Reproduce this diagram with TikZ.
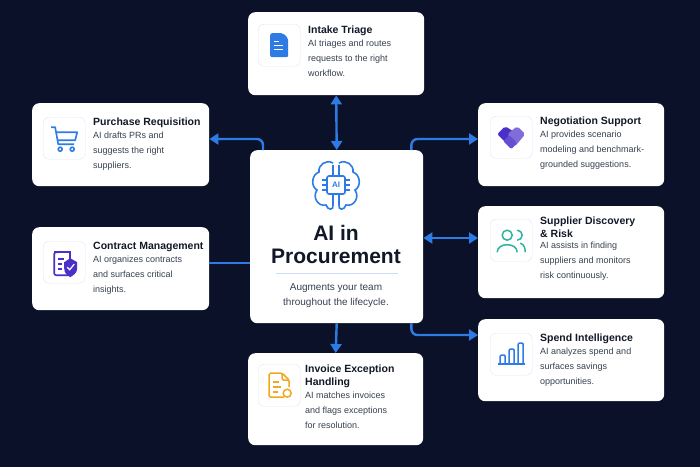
\documentclass[tikz,border=0pt]{standalone}
\usepackage{fontspec}
\setmainfont{Liberation Sans}
\usetikzlibrary{positioning, arrows.meta}
\definecolor{bgnavy}{HTML}{0A1128}
\definecolor{linkblue}{HTML}{2F7BE6}
\definecolor{titleink}{HTML}{111827}
\definecolor{bodyink}{HTML}{374151}
\definecolor{iconedge}{HTML}{E3E6F0}
\definecolor{purpleicon}{HTML}{4B2FC9}
\definecolor{tealicon}{HTML}{2BB5A0}
\definecolor{orangeicon}{HTML}{F0A81C}
\tikzstyle{card} = [rectangle, rounded corners=7pt, fill=white, anchor=north west, inner sep=0pt]
\tikzstyle{iconbox} = [rectangle, rounded corners=6pt, draw=iconedge, fill=white, minimum size=42pt, anchor=north west, inner sep=0pt]
\tikzstyle{cardtitle} = [anchor=north west, inner sep=0pt, text=titleink, font=\bfseries\fontsize{10.5}{13}\selectfont, align=left]
\tikzstyle{cardbody} = [anchor=north west, inner sep=0pt, text=bodyink, font=\fontsize{9}{15}\selectfont, align=left]
\tikzstyle{link} = [linkblue, line width=2.4pt, rounded corners=6pt]
\tikzstyle{arrow} = [link, -{Triangle[length=9pt,width=11pt]}]
\tikzstyle{twoway} = [link, {Triangle[length=9pt,width=11pt]}-{Triangle[length=9pt,width=11pt]}]

\begin{document}
\begin{tikzpicture}[x=1pt, y=-1pt]
    \fill[bgnavy] (0,0) rectangle (700,467);
    \useasboundingbox (0,0) rectangle (700,467);

    % cards
    \node (intake) [card, minimum width=176pt, minimum height=83pt] at (248,12) {};
    \node (purchase) [card, minimum width=177pt, minimum height=83pt] at (32,103) {};
    \node (contract) [card, minimum width=177pt, minimum height=83pt] at (32,227) {};
    \node (negotiation) [card, minimum width=186pt, minimum height=83pt] at (478,103) {};
    \node (supplier) [card, minimum width=186pt, minimum height=92pt] at (478,206) {};
    \node (spend) [card, minimum width=186pt, minimum height=82pt] at (478,319) {};
    \node (invoice) [card, minimum width=175pt, minimum height=92pt] at (248,353) {};
    \node (center) [card, minimum width=173pt, minimum height=173pt] at (250,150) {};

    % icon boxes
    \node (intakeicon) [iconbox] at (258,24) {};
    \node (purchaseicon) [iconbox] at (43,117) {};
    \node (contracticon) [iconbox] at (43,241) {};
    \node (negotiationicon) [iconbox] at (490,116) {};
    \node (suppliericon) [iconbox] at (490,219) {};
    \node (spendicon) [iconbox] at (490,333) {};
    \node (invoiceicon) [iconbox] at (258,364) {};

    % titles and texts
    \node (intaketitle) [cardtitle] at (308,26) {Intake Triage};
    \node [cardbody, below=4pt of intaketitle.south west, anchor=north west] {AI triages and routes\\requests to the right\\workflow.};
    \node (purchasetitle) [cardtitle] at (93,118) {Purchase Requisition};
    \node [cardbody, below=4pt of purchasetitle.south west, anchor=north west] {AI drafts PRs and\\suggests the right\\suppliers.};
    \node (contracttitle) [cardtitle] at (93,242) {Contract Management};
    \node [cardbody, below=4pt of contracttitle.south west, anchor=north west] {AI organizes contracts\\and surfaces critical\\insights.};
    \node (negotiationtitle) [cardtitle] at (540,117) {Negotiation Support};
    \node [cardbody, below=4pt of negotiationtitle.south west, anchor=north west] {AI provides scenario\\modeling and benchmark-\\grounded suggestions.};
    \node (suppliertitle) [cardtitle] at (540,217) {Supplier Discovery\\\& Risk};
    \node [cardbody, below=4pt of suppliertitle.south west, anchor=north west] {AI assists in finding\\suppliers and monitors\\risk continuously.};
    \node (spendtitle) [cardtitle] at (540,334) {Spend Intelligence};
    \node [cardbody, below=4pt of spendtitle.south west, anchor=north west] {AI analyzes spend and\\surfaces savings\\opportunities.};
    \node (invoicetitle) [cardtitle] at (305,365) {Invoice Exception\\Handling};
    \node [cardbody, below=4pt of invoicetitle.south west, anchor=north west] {AI matches invoices\\and flags exceptions\\for resolution.};

    % center texts
    \node (maintitle) [text=titleink, font=\bfseries\fontsize{21}{23}\selectfont, align=center] at (336,244) {AI in\\Procurement};
    \draw[linkblue!25, line width=0.8pt] (276,273) -- (398,273);
    \node (subtitle) [text=bodyink, font=\fontsize{10}{15}\selectfont, align=center] at (336,296) {Augments your team\\throughout the lifecycle.};

    % brain icon
    \begin{scope}[linkblue, line width=1.6pt, shift={(336,185)}]
        \draw[rounded corners=2pt] (-9,-9) rectangle (9,9);
        \node[font=\bfseries\fontsize{8}{8}\selectfont] at (0,0) {AI};
        \draw (-3,-22) .. controls (-10,-26) and (-18,-20) .. (-17,-13) .. controls (-25,-10) and (-25,2) .. (-19,5) .. controls (-24,12) and (-18,22) .. (-10,20) .. controls (-8,26) and (-2,25) .. (-3,20);
        \draw (3,-22) .. controls (10,-26) and (18,-20) .. (17,-13) .. controls (25,-10) and (25,2) .. (19,5) .. controls (24,12) and (18,22) .. (10,20) .. controls (8,26) and (2,25) .. (3,20);
        \foreach \yy in {-5,0,5} {
            \draw (-9,\yy) -- (-14,\yy);
            \draw (9,\yy) -- (14,\yy);
        }
        \draw (-3,-9) -- (-3,-20) (3,-9) -- (3,-20) (-3,9) -- (-3,20) (3,9) -- (3,20);
    \end{scope}

    % small icons
    \begin{scope}[shift={(intakeicon.center)}]
        \fill[linkblue, rounded corners=2pt] (-9,-12) -- (4,-12) -- (9,-7) -- (9,12) -- (-9,12) -- cycle;
        \draw[white, line width=1.2pt] (-5,0) -- (4,0) (-5,4) -- (4,4) (-5,-4) -- (0,-4);
    \end{scope}
    \begin{scope}[shift={(purchaseicon.center)}, linkblue, line width=1.6pt, line join=round]
        \draw (-13,-11) -- (-9,-11) -- (-6,6) -- (10,6);
        \draw (-8,-6) -- (13,-6) -- (11,2) -- (-7,2);
        \draw (-4,11) circle (2pt) (8,11) circle (2pt);
    \end{scope}
    \begin{scope}[shift={(contracticon.center)}, purpleicon, line width=1.6pt]
        \draw[rounded corners=2pt] (-6,-10) -- (-10,-10) -- (-10,13) -- (7,13);
        \draw (-10,-10) -- (6,-10) -- (6,-3);
        \draw (-6,-3) -- (0,-3) (-6,2) -- (-2,2) (-6,7) -- (-2,7);
        \fill (6,-4) -- (13,0) -- (13,6) .. controls (13,11) and (9,13) .. (6,15) .. controls (3,13) and (0,11) .. (0,6) -- (0,0) -- cycle;
        \draw[white, line width=1.2pt] (3,5) -- (5.5,7.5) -- (10,2);
    \end{scope}
    \begin{scope}[shift={(negotiationicon.center)}]
        \fill[purpleicon, rounded corners=2pt] (-14,-3) -- (-6,-11) -- (2,-6) -- (-5,6) -- cycle;
        \fill[purpleicon!70, rounded corners=2pt] (14,-3) -- (6,-11) -- (-4,-3) -- (4,9) -- cycle;
        \fill[purpleicon!85, rounded corners=2pt] (-8,4) -- (-2,-2) -- (6,6) -- (0,12) -- cycle;
    \end{scope}
    \begin{scope}[shift={(suppliericon.center)}, tealicon, line width=1.5pt]
        \draw (-4,-5) circle (5pt);
        \draw (-14,12) .. controls (-14,2) and (6,2) .. (6,12);
        \draw (6,-10) arc (90:-90:5pt);
        \draw (9,3) .. controls (13,4) and (14,8) .. (14,12);
    \end{scope}
    \begin{scope}[shift={(spendicon.center)}, linkblue, line width=1.5pt, rounded corners=1pt]
        \draw (-11,1) rectangle (-6,10);
        \draw (-2,-5) rectangle (3,10);
        \draw (7,-11) rectangle (12,10);
        \draw (-13,10) -- (14,10);
    \end{scope}
    \begin{scope}[shift={(invoiceicon.center)}, orangeicon, line width=1.5pt, rounded corners=1.5pt]
        \draw (5,12) -- (-10,12) -- (-10,-12) -- (3,-12) -- (10,-5) -- (10,2);
        \draw (3,-12) -- (3,-5) -- (10,-5);
        \draw (-6,-3) -- (0,-3) (-6,2) -- (2,2) (-6,7) -- (-1,7);
        \draw (8,8) circle (4pt);
    \end{scope}

    % connectors
    \draw[twoway] (intake.south) -- (center.north);
    \draw[arrow] ([xshift=13pt]center.north west) |- ([yshift=-36pt]purchase.north east);
    \draw[link] (center.west |- 0,263) -- (contract.east |- 0,263);
    \draw[arrow] ([xshift=-12pt]center.north east) |- ([yshift=-36pt]negotiation.north west);
    \draw[twoway] (center.east |- 0,238) -- (supplier.west |- 0,238);
    \draw[arrow] ([xshift=-12pt]center.south east) |- (spend.west |- 0,335);
    \draw[arrow] (center.south) -- (invoice.north);
\end{tikzpicture}
\end{document}
